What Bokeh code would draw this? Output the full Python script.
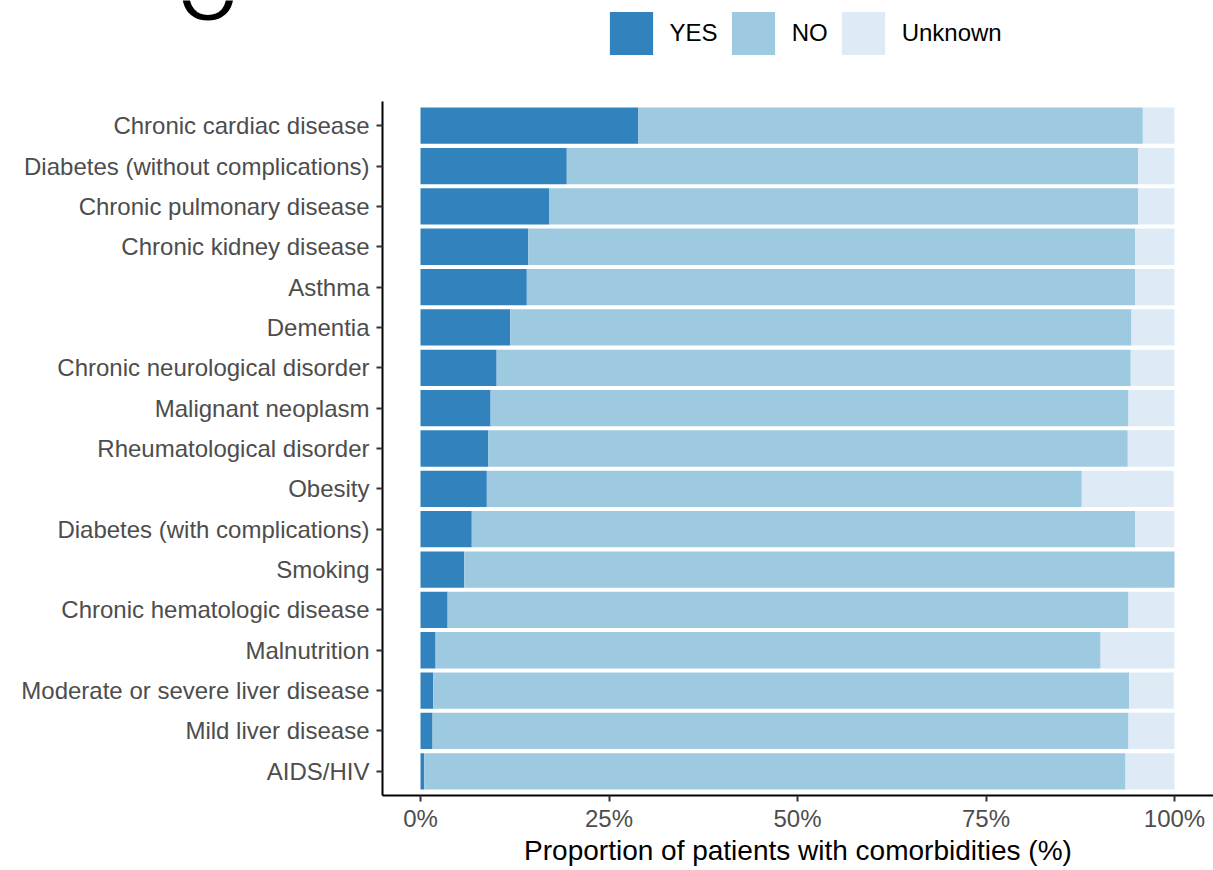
from bokeh.plotting import figure
from bokeh.layouts import column
from bokeh.models import FactorRange, Range1d, Legend, LegendItem, Label, FixedTicker
from bokeh.embed import file_html
from bokeh.resources import INLINE

categories = [
    "Chronic cardiac disease",
    "Diabetes (without complications)",
    "Chronic pulmonary disease",
    "Chronic kidney disease",
    "Asthma",
    "Dementia",
    "Chronic neurological disorder",
    "Malignant neoplasm",
    "Rheumatological disorder",
    "Obesity",
    "Diabetes (with complications)",
    "Smoking",
    "Chronic hematologic disease",
    "Malnutrition",
    "Moderate or severe liver disease",
    "Mild liver disease",
    "AIDS/HIV",
]
yes = [28.9, 19.4, 17.1, 14.3, 14.1, 11.9, 10.1, 9.3, 9.0, 8.8, 6.8, 5.8, 3.6, 2.0, 1.7, 1.6, 0.5]
no = [66.9, 75.8, 78.1, 80.5, 80.7, 82.4, 84.1, 84.6, 84.8, 78.9, 88.0, 94.2, 90.3, 88.2, 92.3, 92.3, 93.0]
unknown = [4.2, 4.8, 4.8, 5.2, 5.2, 5.7, 5.8, 6.1, 6.2, 12.2, 5.2, 0.0, 6.1, 9.8, 5.9, 6.1, 6.5]

series = ["YES", "NO", "Unknown"]
colors = ["#3182bd", "#9ecae1", "#deebf7"]
x_ticks = [0, 25, 50, 75, 100]
x_tick_labels = ["0%", "25%", "50%", "75%", "100%"]
cropped_title = "O"

FONT = "Liberation Sans"
W = 1213
TOP_H = 100
MAIN_H = 770

data = dict(cat=categories, YES=yes, NO=no, Unknown=unknown)

# ---- top strip: cropped title fragment + legend ----
top = figure(width=W, height=TOP_H, x_range=Range1d(0, W), y_range=Range1d(0, TOP_H),
             output_backend="svg", toolbar_location=None,
             x_axis_location=None, y_axis_location=None,
             min_border=0, min_border_left=0, min_border_right=0,
             min_border_top=0, min_border_bottom=0)
top.frame_align = False
top.outline_line_color = None
top.xgrid.visible = False
top.ygrid.visible = False
# legend swatches: same series (categorical y on this numeric strip -> nothing drawn)
swatches = top.hbar_stack(series, y="cat", height=0.9, color=colors, line_color=None, source=dict(data))

legend = Legend(
    items=[LegendItem(label=s, renderers=[r]) for s, r in zip(series, swatches)],
    orientation="horizontal",
    location=(603.6, 40.3),
    glyph_width=54, glyph_height=54,
    label_standoff=12, spacing=8,
    padding=0, margin=0,
    border_line_color=None, background_fill_alpha=0,
    label_text_font=FONT, label_text_font_size="24px", label_text_color="black",
)
top.add_layout(legend, "center")
top.add_layout(Label(x=207.5, y=107, x_units="screen", y_units="screen", text=cropped_title,
                     text_font=FONT, text_font_size="75px", text_color="black",
                     text_baseline="alphabetic", text_align="center"))

# ---- main chart ----
p = figure(
    width=W, height=MAIN_H,
    y_range=FactorRange(factors=categories[::-1], range_padding=0.2 / 17),
    x_range=Range1d(-5.04, 105.17),
    output_backend="svg", toolbar_location=None,
    min_border_left=382, min_border_right=0, min_border_top=1, min_border_bottom=75,
)
p.frame_align = False
p.outline_line_color = None
p.xgrid.visible = False
p.ygrid.visible = False

p.hbar_stack(series, y="cat", height=0.9, color=colors, line_color=None, source=data)

for ax in (p.xaxis[0], p.yaxis[0]):
    ax.axis_line_color = "black"
    ax.axis_line_width = 2
    ax.major_tick_line_color = "#333333"
    ax.major_tick_line_width = 2
    ax.major_tick_out = 6
    ax.major_tick_in = 0
    ax.minor_tick_line_color = None
    ax.major_label_text_font = FONT
    ax.major_label_text_font_size = "24px"
    ax.major_label_text_color = "#4d4d4d"

p.yaxis.major_label_standoff = 7
p.xaxis.ticker = FixedTicker(ticks=x_ticks)
p.xaxis.major_label_overrides = {t: l for t, l in zip(x_ticks, x_tick_labels)}
p.xaxis.major_label_standoff = 3
p.xaxis.axis_label = "Proportion of patients with comorbidities (%)"
p.xaxis.axis_label_text_font = FONT
p.xaxis.axis_label_text_font_size = "28px"
p.xaxis.axis_label_text_font_style = "normal"
p.xaxis.axis_label_text_color = "black"
p.xaxis.axis_label_standoff = 0

layout = column(top, p, spacing=0)
open("out.html", "w").write(file_html(layout, INLINE))
